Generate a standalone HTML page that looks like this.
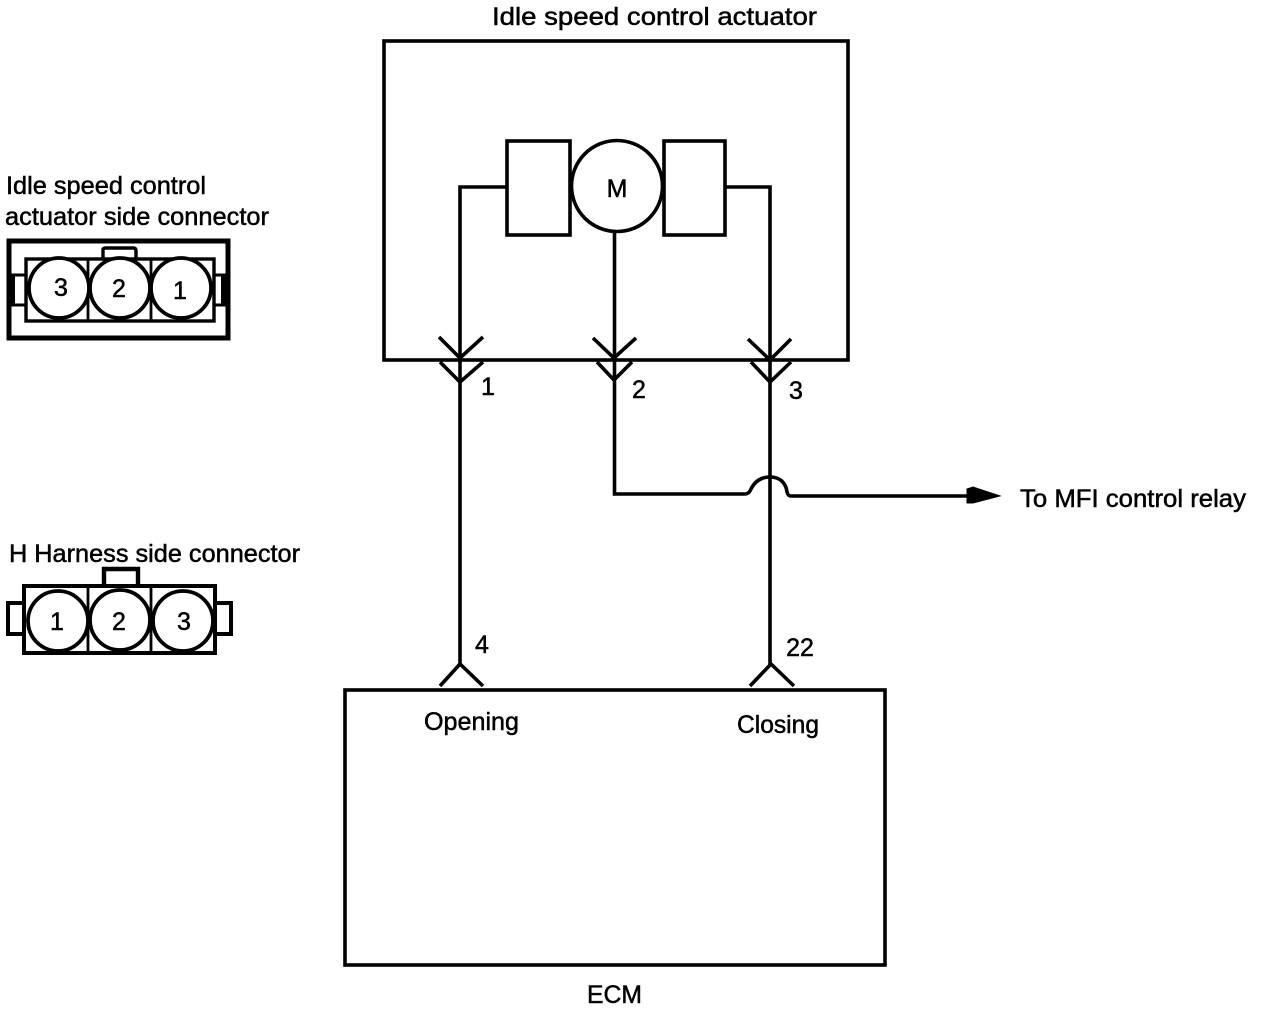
<!DOCTYPE html>
<html>
<head>
<meta charset="utf-8">
<style>
html,body{margin:0;padding:0;background:#fff;}
svg{display:block;}
text{font-family:"Liberation Sans",sans-serif;font-size:25px;fill:#000;stroke:#000;stroke-width:.5px;}
.n{text-anchor:middle;}
</style>
</head>
<body>
<svg width="1264" height="1010" viewBox="0 0 1264 1010" xmlns="http://www.w3.org/2000/svg">
<g fill="none" stroke="#000" stroke-width="3.6">
  <!-- Actuator -->
  <rect x="384" y="41" width="464" height="319"/>
  <rect x="507" y="141" width="63" height="94"/>
  <rect x="664" y="141" width="61" height="94"/>
  <circle cx="617" cy="186" r="45.5"/>
  <path d="M507 187H460V665"/>
  <path d="M614.5 232V494H745Q749 494 751 489C755 481 761 477 770 477C780 477 786 483 787 492Q788 496 791 496H970"/>
  <path d="M725 187H770V665"/>
  <!-- connector chevrons -->
  <path d="M439 337L460 358L483 337M440 362L460 382L483 362"/>
  <path d="M593 338L614 358L636 338M597 362L614 380L632 362"/>
  <path d="M748 339L770 360L791 339M751 362L770 382L791 362"/>
  <path d="M440 686L460 664L483 686"/>
  <path d="M750 686L771 664L794 686"/>
  <!-- ECM -->
  <rect x="345" y="690" width="540" height="275"/>
  <!-- Top connector -->
  <rect x="9" y="241" width="219" height="97" stroke-width="5"/>
  <rect x="26" y="259" width="188" height="62" stroke-width="3.4"/>
  <path d="M88 259V321M151 259V321" stroke-width="2.8"/>
  <path d="M103 258V250Q103 248 106 248H133Q136 248 136 251V258" stroke-width="3.4"/>
  <path d="M10 275H27M10 305H27" stroke-width="3"/>
  <path d="M12 275V305M224 275V305" stroke-width="6"/>
  <path d="M214 275H226M214 305H226" stroke-width="3"/>
  <g fill="#fff" stroke-width="3.8">
    <circle cx="59" cy="288" r="30"/>
    <circle cx="120" cy="288" r="30"/>
    <circle cx="181" cy="288" r="30"/>
  </g>
  <!-- Bottom connector -->
  <rect x="24" y="586" width="191" height="67" stroke-width="4"/>
  <path d="M88 586V653M151 586V653" stroke-width="2.8"/>
  <path d="M104 585V569H138V585" stroke-width="4.4"/>
  <path d="M24 603H8V634H24" stroke-width="4"/>
  <path d="M215 603H231V634H215" stroke-width="4"/>
  <g fill="#fff" stroke-width="3.8">
    <circle cx="58" cy="621" r="30"/>
    <circle cx="120" cy="620" r="30"/>
    <circle cx="183" cy="621" r="30"/>
  </g>
</g>
<path d="M967 489L973 487L1000 496L973 503L967 503Z" fill="#000" stroke="#000" stroke-width="1"/>
<text x="492" y="25" textLength="325" lengthAdjust="spacingAndGlyphs">Idle speed control actuator</text>
<text x="6" y="194" textLength="200" lengthAdjust="spacingAndGlyphs">Idle speed control</text>
<text x="5" y="225" textLength="264" lengthAdjust="spacingAndGlyphs">actuator side connector</text>
<text x="9" y="562" textLength="291" lengthAdjust="spacingAndGlyphs">H Harness side connector</text>
<text class="n" x="61" y="296">3</text>
<text class="n" x="119" y="297">2</text>
<text class="n" x="180" y="299">1</text>
<text class="n" x="57" y="630">1</text>
<text class="n" x="119" y="630">2</text>
<text class="n" x="184" y="630">3</text>
<text class="n" x="617" y="197">M</text>
<text class="n" x="488" y="395">1</text>
<text class="n" x="639" y="398">2</text>
<text class="n" x="796" y="399">3</text>
<text class="n" x="482" y="653">4</text>
<text class="n" x="800" y="656">22</text>
<text x="424" y="730" textLength="95" lengthAdjust="spacingAndGlyphs">Opening</text>
<text x="737" y="733" textLength="82" lengthAdjust="spacingAndGlyphs">Closing</text>
<text x="587" y="1003" textLength="55" lengthAdjust="spacingAndGlyphs">ECM</text>
<text x="1020" y="507" textLength="226" lengthAdjust="spacingAndGlyphs">To MFI control relay</text>
</svg>
</body>
</html>
